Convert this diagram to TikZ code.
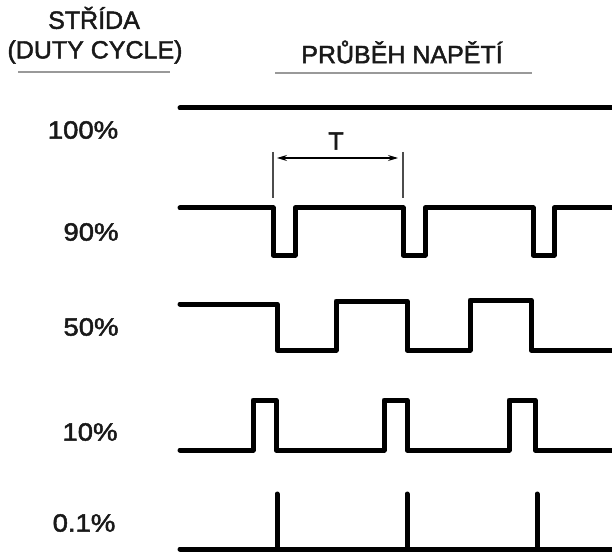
\documentclass[tikz,border=0pt]{standalone}
\usepackage{fontspec}
\setmainfont{Liberation Sans}
\newfontfamily\lblfont{Liberation Sans}[FakeBold=1.8]
\usetikzlibrary{arrows.meta}
\tikzset{
  wave/.style={line width=5pt, line join=round, line cap=round, black},
  rule/.style={line width=1.6pt, gray!80},
  lbl/.style={font=\lblfont\fontsize{25}{28}\selectfont, inner sep=0pt, text=black!90},
  pct/.style={lbl, xscale=1.1},
  dimline/.style={line width=1.1pt, gray!60!black},
  dimarrow/.style={line width=1.1pt, {Stealth[length=10pt,width=6pt]}-{Stealth[length=10pt,width=6pt]}}
}
\begin{document}
\begin{tikzpicture}[x=1pt,y=-1pt]
\useasboundingbox[fill=white] (0,0) rectangle (612,553);
% headings
\node[lbl] (h1) at (94,18) {STŘÍDA};
\node[lbl] (h2) at (95,52) {(DUTY CYCLE)};
\draw[rule] (18,72) -- (170,72);
\node[lbl] (h3) at (402,52) {PRŮBĚH NAPĚTÍ};
\draw[rule] (275,73) -- (532,73);
% duty labels
\node[pct] (d100) at (83,130) {100\%};
\node[pct] (d90) at (91,232) {90\%};
\node[pct] (d50) at (91,327) {50\%};
\node[pct] (d10) at (90,432) {10\%};
\node[pct] (d01) at (84,523) {0.1\%};
% 100%
\draw[wave] (180,108) -- (614,108);
% 90%
\draw[wave] (180,208) -- (273,208) -- (273,255) -- (295,255) -- (295,208)
  -- (403,208) -- (403,255) -- (425,255) -- (425,208)
  -- (533,208) -- (533,255) -- (554,255) -- (554,208) -- (614,208);
% 50%
\draw[wave] (180,304) -- (277,304) -- (277,350) -- (336,350) -- (336,301)
  -- (407,301) -- (407,350) -- (470,350) -- (470,300)
  -- (531,300) -- (531,350) -- (614,350);
% 10%
\draw[wave] (180,450) -- (253,450) -- (253,400) -- (276,400) -- (276,450)
  -- (384,450) -- (384,400) -- (407,400) -- (407,450)
  -- (509,450) -- (509,400) -- (535,400) -- (535,450) -- (614,450);
% 0.1%
\draw[wave] (180,549) -- (614,549);
\draw[wave] (277,549) -- (277,494);
\draw[wave] (407,549) -- (407,494);
\draw[wave] (537,549) -- (537,494);
% period T
\coordinate (ta) at (273,152);
\coordinate (tb) at (403,152);
\draw[dimline] (ta) -- (273,198);
\draw[dimline] (tb) -- (403,198);
\draw[dimarrow] (277,158) -- (398,158);
\node[lbl] (T) at (336,141) {T};
\end{tikzpicture}
\end{document}
